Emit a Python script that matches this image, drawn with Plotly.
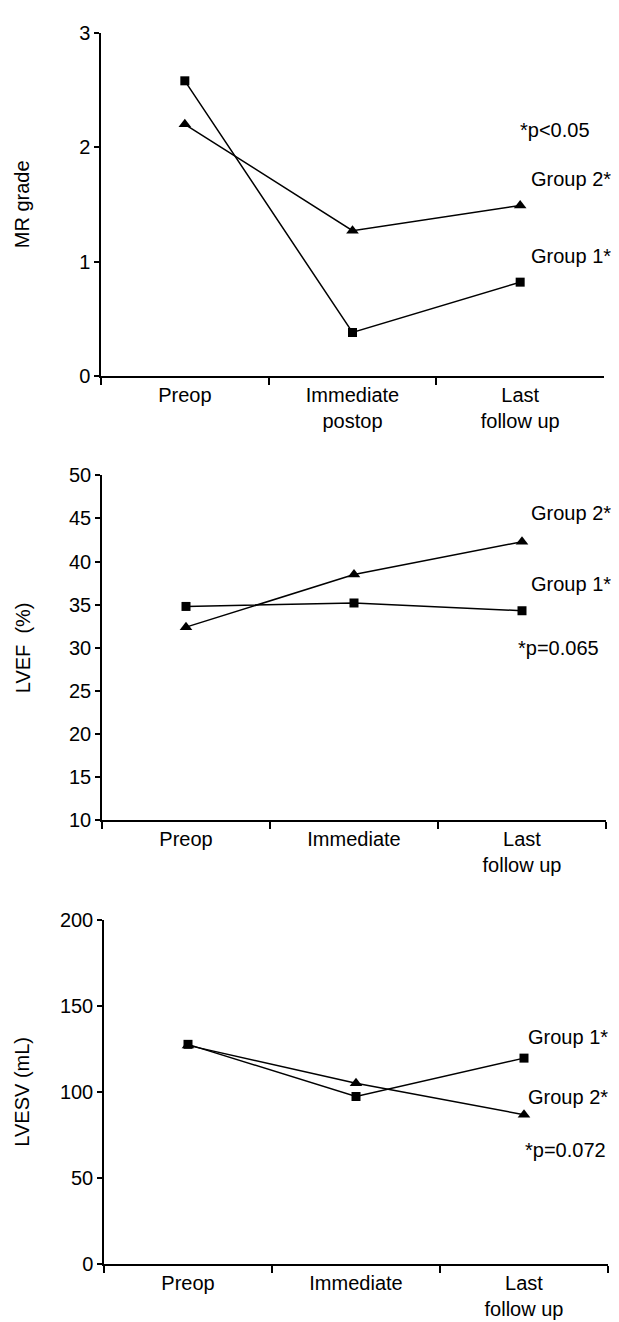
import plotly.graph_objects as go

# ---------------- data ----------------
cats_top = ["Preop", "Immediate<br>postop", "Last<br>follow up"]
cats_low = ["Preop", "Immediate", "Last<br>follow up"]

mr_group1 = [2.58, 0.38, 0.82]
mr_group2 = [2.20, 1.27, 1.49]

lvef_group1 = [34.8, 35.2, 34.3]
lvef_group2 = [32.4, 38.5, 42.3]

lvesv_group1 = [127.6, 97.3, 119.6]
lvesv_group2 = [127.0, 105.0, 86.7]

W, H = 619, 1322
FONT = "Liberation Sans, Arial, sans-serif"
FS = 20

def px_x(p):
    return p / W

def px_y(p):
    return 1 - p / H

fig = go.Figure()

panels = [
    # (axis suffix, categories, g1, g2, x0, x1, ytop, ybot, yrange, dtick, title, standoff)
    ("", cats_top, mr_group1, mr_group2, 93, 596, 14, 363, [0, 3], 1, "MR grade", 44),
    ("2", cats_low, lvef_group1, lvef_group2, 94, 598, 464, 815, [10, 50], 5, "LVEF  (%)", 33),
    ("3", cats_low, lvesv_group1, lvesv_group2, 96, 600, 916, 1266, [0, 200], 50, "LVESV (mL)", 25),
]

for suf, cats, g1, g2, x0, x1, yt, yb, yr, dt, title, so in panels:
    xa = "x" + suf
    ya = "y" + suf
    fig.add_trace(go.Scatter(x=cats, y=g1, mode="lines+markers", xaxis=xa, yaxis=ya,
                             line=dict(color="black", width=1.5),
                             marker=dict(symbol="square", size=9, color="black"),
                             showlegend=False, cliponaxis=False))
    fig.add_trace(go.Scatter(x=cats, y=g2, mode="lines+markers", xaxis=xa, yaxis=ya,
                             line=dict(color="black", width=1.5),
                             marker=dict(symbol="triangle-up", size=11, color="black"),
                             showlegend=False, cliponaxis=False))
    xkey = "xaxis" + suf
    ykey = "yaxis" + suf
    fig.layout[xkey] = dict(
        domain=[px_x(x0), px_x(x1)], anchor=ya, type="category",
        categoryorder="array", categoryarray=cats, range=[-0.5, 2.5],
        showline=True, linecolor="black", linewidth=1.5, mirror=False,
        ticks="outside", tickson="boundaries", ticklen=7, tickwidth=1.5, tickcolor="black",
        showgrid=False, zeroline=False,
        tickfont=dict(family=FONT, size=FS, color="black"),
    )
    fig.layout[ykey] = dict(
        domain=[px_y(yb), px_y(yt)], anchor=xa, range=yr, dtick=dt, tick0=yr[0],
        showline=True, linecolor="black", linewidth=1.5, mirror=False,
        ticks="outside", ticklen=5, tickwidth=1.5, tickcolor="black",
        showgrid=False, zeroline=False,
        tickfont=dict(family=FONT, size=FS, color="black"),
        title=dict(text=title, font=dict(family=FONT, size=FS, color="black"), standoff=so),
    )

ann = [
    ("*p<0.05", 510, 113), ("Group 2*", 521, 163), ("Group 1*", 521, 241),
    ("Group 2*", 521, 502), ("Group 1*", 521, 575), ("*p=0.065", 508, 640),
    ("Group 1*", 518, 1035), ("Group 2*", 518, 1096), ("*p=0.072", 515, 1150),
]
for text, ax, ay in ann:
    fig.add_annotation(text=text, xref="paper", yref="paper", x=px_x(ax), y=px_y(ay),
                       xanchor="left", yanchor="middle", showarrow=False,
                       font=dict(family=FONT, size=FS, color="black"))

fig.update_layout(
    width=W, height=H, margin=dict(l=0, r=0, t=0, b=0),
    paper_bgcolor="white", plot_bgcolor="white",
    font=dict(family=FONT, size=FS, color="black"),
)

fig.write_html("out.html")
